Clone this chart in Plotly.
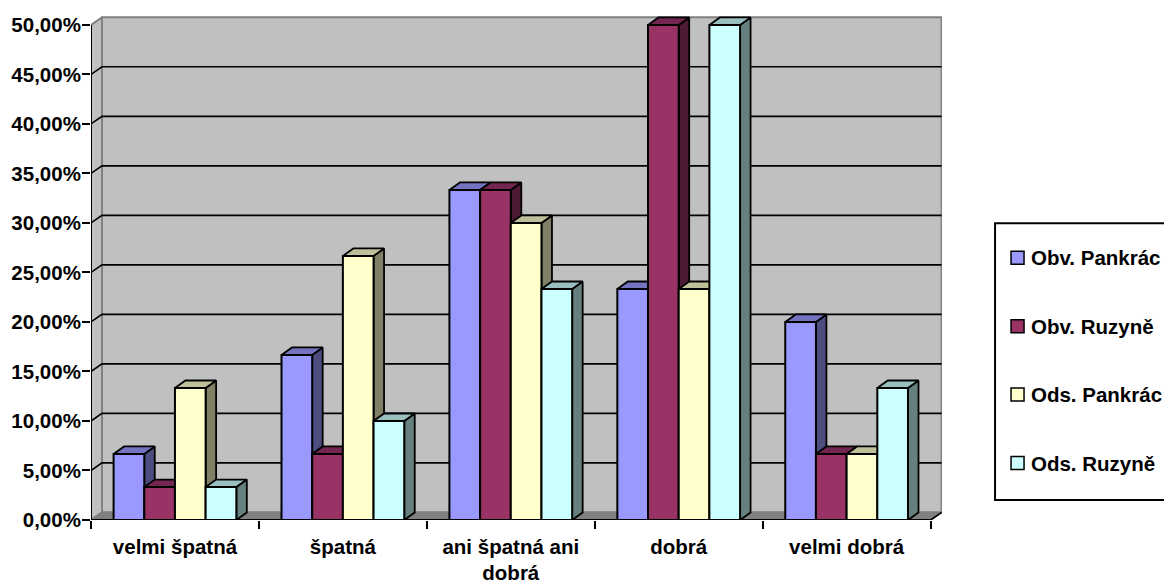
import plotly.graph_objects as go

# Survey shares per rating category and group
categories = ["velmi špatná", "špatná", "ani špatná ani<br>dobrá", "dobrá", "velmi dobrá"]
series_names = ["Obv. Pankrác", "Obv. Ruzyně", "Ods. Pankrác", "Ods. Ruzyně"]
obv_pankrac = [0.0667, 0.1667, 0.3333, 0.2333, 0.2000]
obv_ruzyne = [0.0333, 0.0667, 0.3333, 0.5000, 0.0667]
ods_pankrac = [0.1333, 0.2667, 0.3000, 0.2333, 0.0667]
ods_ruzyne = [0.0333, 0.1000, 0.2333, 0.5000, 0.1333]
y_ticks = [0.00, 0.05, 0.10, 0.15, 0.20, 0.25, 0.30, 0.35, 0.40, 0.45, 0.50]

series_values = [obv_pankrac, obv_ruzyne, ods_pankrac, ods_ruzyne]
front_colors = ["#9999FF", "#993366", "#FFFFCC", "#CCFFFF"]
top_colors = ["#7373BF", "#732650", "#BFBF99", "#99BFBF"]
side_colors = ["#4D4D80", "#4D1A33", "#808066", "#668080"]

# Plot frame in pixels
W, H = 1164, 583
LEFT, BOTTOM_PX = 90.5, 520
PX_PER_CAT = 168.0
PX_PER_UNIT = 991.0
X_MAX = 5.068
Y_MAX = 0.51

# Oblique projection offsets, in axis units
wall_dx = 11 / PX_PER_CAT
wall_dy = 7.6 / PX_PER_UNIT
bar_dx = 10.5 / PX_PER_CAT
bar_dy = 7.5 / PX_PER_UNIT
bar_w = 30.7 / PX_PER_CAT
n_cat = len(categories)
plot_w = X_MAX * PX_PER_CAT
plot_h = Y_MAX * PX_PER_UNIT

WALL = "#C0C0C0"
EDGE = "#808080"
FONT = "Liberation Sans"
TEXT_SIZE = 20.5

fig = go.Figure()


def poly(xs, ys, fill=None, line=None, width=2, z=0):
    fig.add_trace(go.Scatter(
        x=xs, y=ys, mode="lines", fill="toself" if fill else "none",
        fillcolor=fill, line=dict(color=line or "rgba(0,0,0,0)", width=width),
        cliponaxis=False, hoverinfo="skip", showlegend=False, zorder=z,
    ))


top = y_ticks[-1] + wall_dy
right = n_cat + wall_dx

# Back wall, side wall and floor
poly([wall_dx, right, right, wall_dx, wall_dx], [wall_dy, wall_dy, top, top, wall_dy], WALL, EDGE)
poly([0, wall_dx, wall_dx, 0, 0], [0, wall_dy, top, y_ticks[-1], 0], WALL, EDGE)
poly([0, n_cat, right, wall_dx, 0], [0, 0, wall_dy, wall_dy, 0], EDGE, EDGE)

# Gridlines bend round the side wall onto the back wall
for t in y_ticks[1:-1]:
    poly([0, wall_dx, right], [t, t + wall_dy, t + wall_dy], None, "#000000", 1.6)

# Front edges of the axes
poly([0, 0], [0, y_ticks[-1]], None, "#000000", 2)
poly([0, n_cat], [0, 0], None, "#000000", 2)
poly([n_cat, right], [0, wall_dy], None, "#000000", 1.6)

# Columns: side and top faces first, then the front face, series by series
for k, (name, vals) in enumerate(zip(series_names, series_values)):
    centers = [i + 0.5 + (k - 1.5) * bar_w for i in range(n_cat)]
    side_x, side_y, top_x, top_y = [], [], [], []
    for c, v in zip(centers, vals):
        x0, x1 = c - bar_w / 2, c + bar_w / 2
        side_x += [x1, x1 + bar_dx, x1 + bar_dx, x1, x1, None]
        side_y += [0, bar_dy, v + bar_dy, v, 0, None]
        top_x += [x0, x0 + bar_dx, x1 + bar_dx, x1, x0, None]
        top_y += [v, v + bar_dy, v + bar_dy, v, v, None]
    poly(side_x, side_y, side_colors[k], "#000000", 1.8, z=3 * k + 1)
    poly(top_x, top_y, top_colors[k], "#000000", 1.8, z=3 * k + 2)
    fig.add_trace(go.Bar(
        x=centers, y=vals, width=bar_w, name=name, showlegend=False,
        marker=dict(color=front_colors[k], line=dict(color="#000000", width=2)),
        cliponaxis=False, zorder=3 * k + 3,
    ))


def px(x):
    return (x - LEFT) / plot_w


def py(y):
    return (BOTTOM_PX - y) / plot_h


# Legend panel, open at the right edge of the page
shapes = [dict(type="rect", xref="paper", yref="paper",
               x0=px(995), x1=px(1190), y0=py(500), y1=py(223),
               line=dict(color="#000000", width=2), fillcolor="#FFFFFF", layer="above")]
annotations = []
legend_rows = [257.5, 326, 394.5, 463]
for name, color, row in zip(series_names, front_colors, legend_rows):
    shapes.append(dict(type="rect", xref="paper", yref="paper",
                       x0=px(1011), x1=px(1024), y0=py(row + 6.5), y1=py(row - 6.5),
                       line=dict(color="#000000", width=1.5), fillcolor=color, layer="above"))
    annotations.append(dict(xref="paper", yref="paper", x=px(1029), y=py(row),
                            xanchor="left", yanchor="middle", showarrow=False, text=name,
                            font=dict(family=FONT, size=TEXT_SIZE, color="#000000", weight="bold")))

tick_font = dict(family=FONT, size=TEXT_SIZE, color="#000000", weight="bold")

fig.update_layout(
    width=W, height=H, autosize=False,
    margin=dict(l=LEFT, r=W - LEFT - plot_w, b=H - BOTTOM_PX, t=BOTTOM_PX - plot_h, pad=0),
    paper_bgcolor="#FFFFFF", plot_bgcolor="#FFFFFF",
    barmode="overlay", separators=", ", showlegend=False,
    font=dict(family=FONT, size=TEXT_SIZE, color="#000000"),
    shapes=shapes, annotations=annotations,
    xaxis=dict(
        range=[0, X_MAX], showgrid=False, zeroline=False, showline=False, automargin=False,
        tickmode="array", tickvals=[i + 0.5 for i in range(n_cat)], ticktext=categories,
        ticks="", tickangle=0, ticklabelstandoff=12, tickfont=tick_font,
        minor=dict(tickmode="array", tickvals=list(range(n_cat + 1)), ticks="outside",
                   ticklen=8, tickwidth=2, tickcolor="#000000"),
    ),
    yaxis=dict(
        range=[0, Y_MAX], showgrid=False, zeroline=False, showline=False, automargin=False,
        tickmode="array", tickvals=y_ticks, tickformat=".2%", tickfont=tick_font,
        ticks="outside", ticklen=8, tickwidth=2, tickcolor="#000000", ticklabelstandoff=-3,
    ),
)

fig.write_html("out.html", config=dict(displayModeBar=False))
